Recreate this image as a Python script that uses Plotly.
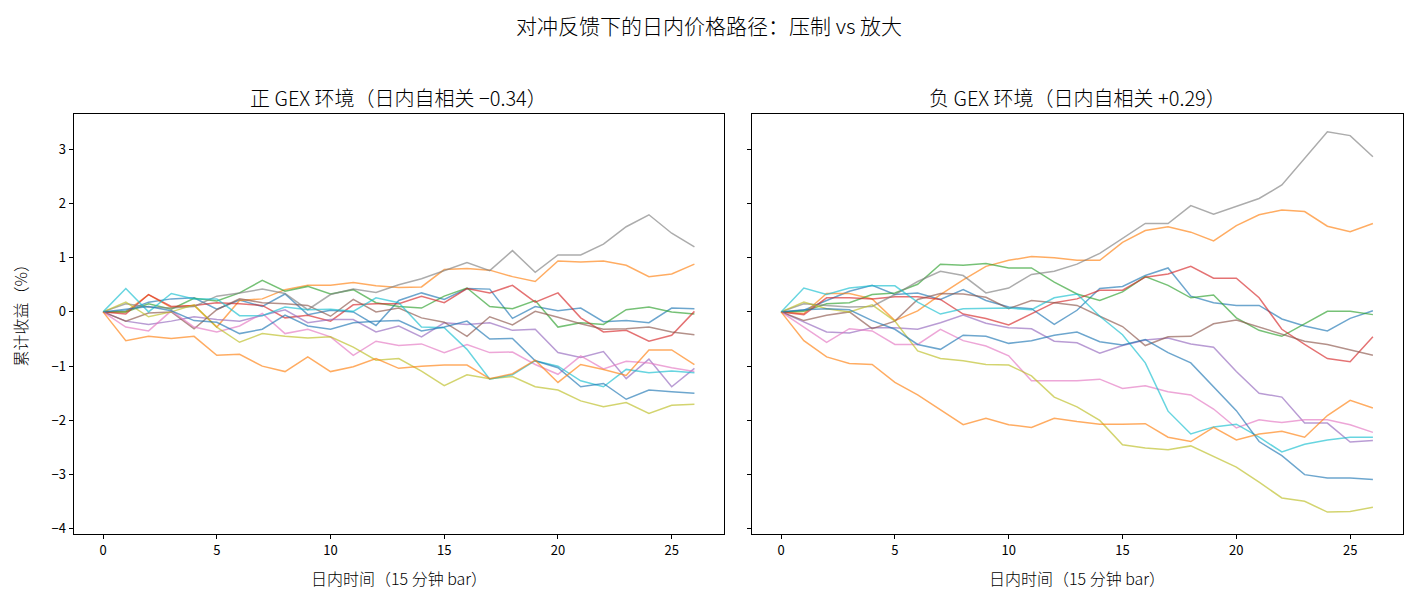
import plotly.graph_objects as go

x_bars = list(range(27))

# 正 GEX 环境 (positive gamma) paths, cumulative return %
pos_blue1 = [0, 0.02, 0.18, 0.24, 0.26, 0.05, 0.22, 0.1, 0.33, -0.05, 0.03, 0.0, -0.25, 0.21, 0.35, 0.23, 0.43, 0.42, -0.12, 0.1, 0.02, 0.07, -0.18, -0.16, -0.2, 0.07, 0.06]
pos_orange1 = [0, 0.0, 0.32, 0.08, 0.12, -0.28, 0.21, 0.24, 0.41, 0.49, 0.49, 0.54, 0.48, 0.45, 0.46, 0.78, 0.8, 0.77, 0.65, 0.56, 0.94, 0.92, 0.94, 0.86, 0.65, 0.7, 0.88]
pos_green = [0, 0.0, 0.15, 0.05, 0.25, 0.2, 0.35, 0.58, 0.38, 0.47, 0.33, 0.41, 0.17, 0.1, 0.07, 0.29, 0.44, 0.1, 0.06, 0.21, -0.28, -0.2, -0.23, 0.04, 0.09, 0.0, -0.04]
pos_red = [0, -0.04, 0.32, 0.1, 0.12, 0.17, 0.15, 0.12, -0.11, -0.06, -0.17, 0.13, 0.15, 0.15, 0.29, 0.17, 0.43, 0.35, 0.49, 0.18, 0.35, -0.11, -0.37, -0.34, -0.54, -0.43, 0.01]
pos_purple = [0, -0.17, -0.23, -0.17, -0.09, -0.14, -0.17, -0.06, 0.04, -0.2, -0.14, -0.14, -0.37, -0.26, -0.46, -0.2, -0.23, -0.2, -0.34, -0.32, -0.75, -0.84, -0.73, -1.23, -0.87, -1.38, -1.04]
pos_brown = [0, -0.17, -0.02, 0.0, -0.31, 0.04, 0.24, 0.17, 0.15, 0.12, -0.08, 0.23, 0.0, 0.07, -0.11, -0.19, -0.45, -0.09, -0.24, 0.01, -0.1, -0.22, -0.32, -0.31, -0.28, -0.37, -0.42]
pos_pink = [0, -0.28, -0.35, 0.02, -0.28, -0.37, -0.26, -0.03, -0.4, -0.32, -0.46, -0.8, -0.54, -0.62, -0.59, -0.75, -0.6, -0.75, -0.74, -0.97, -1.15, -0.81, -1.05, -0.91, -0.94, -1.03, -1.1]
pos_gray = [0, 0.15, 0.09, 0.07, 0.1, 0.29, 0.35, 0.42, 0.34, 0.04, 0.32, 0.42, 0.36, 0.5, 0.61, 0.76, 0.91, 0.76, 1.13, 0.73, 1.05, 1.05, 1.25, 1.57, 1.79, 1.45, 1.2]
pos_olive = [0, 0.18, -0.09, 0.0, 0.13, -0.28, -0.56, -0.4, -0.45, -0.48, -0.46, -0.65, -0.89, -0.86, -1.09, -1.36, -1.16, -1.23, -1.19, -1.38, -1.44, -1.64, -1.75, -1.67, -1.87, -1.72, -1.7]
pos_cyan = [0, 0.43, 0.0, 0.34, 0.24, 0.24, -0.07, -0.07, 0.09, 0.04, 0.05, 0.01, 0.26, 0.17, -0.28, -0.29, -0.69, -1.24, -1.16, -0.9, -1.0, -1.27, -1.38, -1.06, -1.12, -1.09, -1.12]
pos_blue2 = [0, 0.05, 0.1, 0.02, -0.16, -0.19, -0.4, -0.32, -0.06, -0.26, -0.32, -0.2, -0.17, -0.16, -0.35, -0.28, -0.17, -0.5, -0.49, -0.9, -1.03, -1.38, -1.32, -1.61, -1.44, -1.47, -1.5]
pos_orange2 = [0, -0.53, -0.45, -0.49, -0.45, -0.8, -0.78, -1.0, -1.1, -0.83, -1.1, -1.01, -0.86, -1.04, -1.0, -0.98, -0.98, -1.23, -1.14, -0.89, -1.3, -0.97, -1.06, -1.17, -0.7, -0.7, -0.97]

# 负 GEX 环境 (negative gamma) paths
neg_blue1 = [0, 0.03, 0.21, 0.38, 0.49, 0.32, 0.35, 0.23, 0.41, 0.21, 0.09, 0.06, -0.23, 0.03, 0.43, 0.47, 0.67, 0.81, 0.29, 0.17, 0.12, 0.12, -0.13, -0.26, -0.35, -0.12, 0.02]
neg_orange1 = [0, -0.03, 0.34, 0.34, 0.24, -0.16, 0.02, 0.32, 0.59, 0.84, 0.95, 1.02, 1.0, 0.95, 0.95, 1.28, 1.5, 1.57, 1.47, 1.31, 1.59, 1.79, 1.88, 1.85, 1.58, 1.48, 1.63]
neg_green = [0, 0.01, 0.15, 0.17, 0.32, 0.35, 0.51, 0.88, 0.86, 0.89, 0.81, 0.81, 0.55, 0.33, 0.21, 0.37, 0.65, 0.49, 0.26, 0.31, -0.11, -0.34, -0.45, -0.22, 0.01, 0.01, -0.05]
neg_red = [0, -0.05, 0.26, 0.26, 0.24, 0.28, 0.28, 0.23, -0.04, -0.12, -0.24, -0.04, 0.17, 0.24, 0.4, 0.4, 0.64, 0.7, 0.84, 0.62, 0.62, 0.26, -0.32, -0.6, -0.86, -0.92, -0.46]
neg_purple = [0, -0.19, -0.37, -0.39, -0.29, -0.29, -0.32, -0.2, -0.06, -0.21, -0.29, -0.31, -0.54, -0.57, -0.76, -0.62, -0.52, -0.48, -0.59, -0.65, -1.1, -1.5, -1.57, -2.05, -2.05, -2.4, -2.37]
neg_brown = [0, -0.16, -0.06, 0.0, -0.31, -0.17, 0.23, 0.34, 0.33, 0.27, 0.06, 0.21, 0.17, 0.12, -0.08, -0.27, -0.62, -0.46, -0.45, -0.22, -0.15, -0.28, -0.4, -0.54, -0.6, -0.7, -0.8]
neg_pink = [0, -0.28, -0.56, -0.31, -0.35, -0.6, -0.6, -0.32, -0.53, -0.63, -0.81, -1.27, -1.27, -1.27, -1.24, -1.41, -1.36, -1.47, -1.53, -1.79, -2.14, -1.99, -2.04, -1.99, -1.99, -2.08, -2.22]
neg_gray = [0, 0.15, 0.12, 0.09, 0.1, 0.32, 0.56, 0.75, 0.67, 0.35, 0.44, 0.69, 0.75, 0.88, 1.08, 1.35, 1.63, 1.63, 1.96, 1.8, 1.95, 2.09, 2.34, 2.82, 3.32, 3.25, 2.86]
neg_olive = [0, 0.18, 0.06, 0.0, 0.13, -0.17, -0.72, -0.86, -0.9, -0.97, -0.98, -1.18, -1.57, -1.75, -2.0, -2.45, -2.51, -2.54, -2.47, -2.67, -2.86, -3.14, -3.43, -3.49, -3.69, -3.68, -3.6]
neg_cyan = [0, 0.44, 0.32, 0.44, 0.48, 0.48, 0.18, -0.04, 0.06, 0.06, 0.07, 0.04, 0.26, 0.33, -0.08, -0.42, -0.94, -1.83, -2.25, -2.12, -2.07, -2.31, -2.58, -2.44, -2.36, -2.31, -2.31]
neg_blue2 = [0, 0.04, 0.06, 0.04, -0.16, -0.32, -0.6, -0.69, -0.43, -0.45, -0.58, -0.53, -0.43, -0.37, -0.55, -0.61, -0.51, -0.75, -0.94, -1.38, -1.82, -2.39, -2.65, -3.0, -3.06, -3.06, -3.09]
neg_orange2 = [0, -0.53, -0.83, -0.95, -0.97, -1.3, -1.53, -1.8, -2.08, -1.96, -2.08, -2.13, -1.96, -2.02, -2.07, -2.07, -2.06, -2.31, -2.39, -2.13, -2.36, -2.25, -2.2, -2.31, -1.91, -1.63, -1.77]

pos_paths = [pos_blue1, pos_orange1, pos_green, pos_red, pos_purple, pos_brown,
             pos_pink, pos_gray, pos_olive, pos_cyan, pos_blue2, pos_orange2]
neg_paths = [neg_blue1, neg_orange1, neg_green, neg_red, neg_purple, neg_brown,
             neg_pink, neg_gray, neg_olive, neg_cyan, neg_blue2, neg_orange2]

tab10 = [(31, 119, 180), (255, 127, 14), (44, 160, 44), (214, 39, 40), (148, 103, 189),
         (140, 86, 75), (227, 119, 194), (127, 127, 127), (188, 189, 34), (23, 190, 207)]

title_text = "对冲反馈下的日内价格路径：压制 vs 放大"
left_title = "正 GEX 环境（日内自相关 −0.34）"
right_title = "负 GEX 环境（日内自相关 +0.29）"
x_label = "日内时间（15 分钟 bar）"
y_label = "累计收益（%）"

FONT = "Noto Sans CJK SC, Noto Sans, DejaVu Sans, sans-serif"

fig = go.Figure()
for k, path in enumerate(pos_paths):
    r, g, b = tab10[k % 10]
    fig.add_trace(go.Scatter(x=x_bars, y=path, mode="lines", xaxis="x", yaxis="y",
                             line=dict(color=f"rgba({r},{g},{b},0.65)", width=1.5),
                             showlegend=False, hoverinfo="skip"))
for k, path in enumerate(neg_paths):
    r, g, b = tab10[k % 10]
    fig.add_trace(go.Scatter(x=x_bars, y=path, mode="lines", xaxis="x2", yaxis="y2",
                             line=dict(color=f"rgba({r},{g},{b},0.65)", width=1.5),
                             showlegend=False, hoverinfo="skip"))

W, H = 1418, 603
axis_common = dict(showgrid=False, zeroline=False, showline=True, mirror=True,
                   linecolor="black", linewidth=1, ticks="outside", ticklen=4,
                   tickcolor="black", tickwidth=1,
                   tickfont=dict(family=FONT, size=13, color="black"))
xr = [-1.3, 27.3]
yr = [-4.1, 3.64]
fig.update_layout(
    width=W, height=H,
    margin=dict(l=0, r=0, t=0, b=0),
    paper_bgcolor="white", plot_bgcolor="white",
    font=dict(family=FONT, color="black"),
    xaxis=dict(domain=[73.5 / W, 724 / W], range=xr, tickvals=[0, 5, 10, 15, 20, 25],
               anchor="y", **axis_common),
    yaxis=dict(domain=[1 - 537 / H, 1 - 115 / H], range=yr, tickvals=[-4, -3, -2, -1, 0, 1, 2, 3],
               anchor="x", **axis_common),
    xaxis2=dict(domain=[751.5 / W, 1402.5 / W], range=xr, tickvals=[0, 5, 10, 15, 20, 25],
                anchor="y2", **axis_common),
    yaxis2=dict(domain=[1 - 537 / H, 1 - 115 / H], range=yr, tickvals=[-4, -3, -2, -1, 0, 1, 2, 3],
                showticklabels=False, anchor="x2", **axis_common),
    annotations=[
        dict(text=title_text, x=0.5, y=1 - 25 / H, xref="paper", yref="paper",
             showarrow=False, font=dict(family=FONT, size=21, color="black", weight=300),
             xanchor="center", yanchor="middle"),
        dict(text=left_title, x=(73.5 + 724) / 2 / W, y=1 - 98 / H, xref="paper", yref="paper",
             showarrow=False, font=dict(family=FONT, size=20, color="black", weight=300),
             xanchor="center", yanchor="middle"),
        dict(text=right_title, x=(751.5 + 1402.5) / 2 / W, y=1 - 98 / H, xref="paper", yref="paper",
             showarrow=False, font=dict(family=FONT, size=20, color="black", weight=300),
             xanchor="center", yanchor="middle"),
        dict(text=x_label, x=(73.5 + 724) / 2 / W, y=1 - 581 / H, xref="paper", yref="paper",
             showarrow=False, font=dict(family=FONT, size=16, color="black", weight=300),
             xanchor="center", yanchor="middle"),
        dict(text=x_label, x=(751.5 + 1402.5) / 2 / W, y=1 - 581 / H, xref="paper", yref="paper",
             showarrow=False, font=dict(family=FONT, size=16, color="black", weight=300),
             xanchor="center", yanchor="middle"),
        dict(text=y_label, x=20 / W, y=1 - 313 / H, xref="paper", yref="paper",
             showarrow=False, textangle=-90, font=dict(family=FONT, size=16, color="black", weight=300),
             xanchor="center", yanchor="middle"),
    ],
)

fig.write_html("out.html")
